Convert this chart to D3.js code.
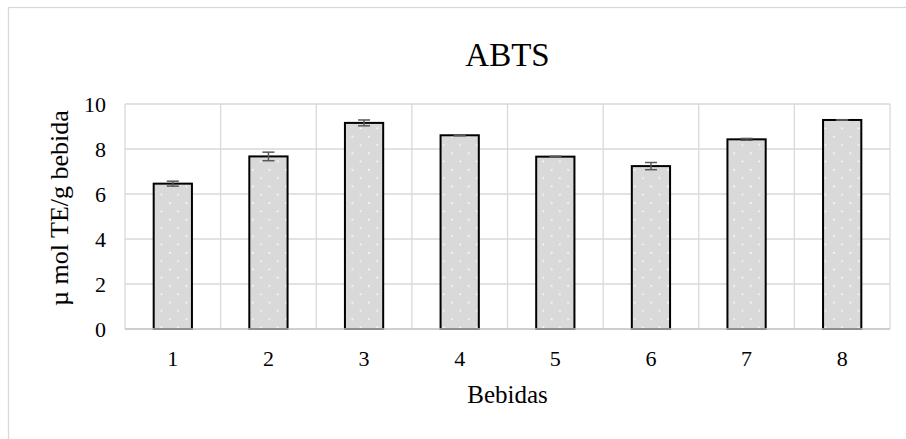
<!DOCTYPE html>
<html><head><meta charset="utf-8">
<script src="https://cdn.jsdelivr.net/npm/d3@7"></script>
<style>
html,body{margin:0;padding:0;background:#fff;}
svg{display:block;font-family:"Liberation Serif","Times New Roman",serif;}
</style></head>
<body><svg id="c" width="906" height="439"></svg>
<script>
const categories = ["1","2","3","4","5","6","7","8"];
const values = [6.46, 7.67, 9.16, 8.61, 7.66, 7.24, 8.43, 9.29];
const errors = [0.11, 0.19, 0.13, 0.02, 0.02, 0.16, 0.04, 0.01];
const yTicks = [0, 2, 4, 6, 8, 10];
const title = "ABTS";
const xTitle = "Bebidas";
const yTitle = "µ mol TE/g bebida";

const svg = d3.select("#c");
// outer chart frame (only top/left visible in the crop)
svg.append("rect").attr("x",8.5).attr("y",7.5).attr("width",1000).attr("height",1000)
  .attr("fill","#fff").attr("stroke","#d9d9d9").attr("stroke-width",1.3);

const defs = svg.append("defs");
const pat = defs.append("pattern").attr("id","dots").attr("patternUnits","userSpaceOnUse")
  .attr("width",16.6).attr("height",16.6);
pat.append("rect").attr("width",16.6).attr("height",16.6).attr("fill","#d9d9d9");
pat.append("rect").attr("x",3).attr("y",3).attr("width",1.6).attr("height",1.6).attr("fill","#fff");
pat.append("rect").attr("x",11.3).attr("y",11.3).attr("width",1.6).attr("height",1.6).attr("fill","#fff");

const L = 125, R = 890, T = 104, B = 329;
const x = d3.scaleBand().domain(categories).range([L, R]).paddingInner(0).paddingOuter(0);
const y = d3.scaleLinear().domain([0, 10]).range([B, T]);

// horizontal gridlines
svg.append("g").selectAll("line").data(yTicks.filter(d=>d>0)).join("line")
  .attr("x1",L).attr("x2",R).attr("y1",d=>y(d)).attr("y2",d=>y(d))
  .attr("stroke","#d9d9d9").attr("stroke-width",1.3);
// vertical gridlines (category boundaries)
const bounds = categories.map(c=>x(c)).concat([R]);
svg.append("g").selectAll("line").data(bounds).join("line")
  .attr("x1",d=>d).attr("x2",d=>d).attr("y1",T).attr("y2",B)
  .attr("stroke","#d9d9d9").attr("stroke-width",1.3);

// bars
const bw = x.bandwidth()*0.4;
svg.append("g").selectAll("rect").data(values).join("rect")
  .attr("x",(d,i)=>x(categories[i])+x.bandwidth()/2-bw/2)
  .attr("y",d=>y(d)).attr("width",bw).attr("height",d=>B-y(d))
  .attr("fill","url(#dots)").attr("stroke","#000").attr("stroke-width",2);

// baseline
svg.append("line").attr("x1",L).attr("x2",R).attr("y1",B).attr("y2",B)
  .attr("stroke","#bfbfbf").attr("stroke-width",1.5);

// error bars
const eg = svg.append("g").attr("stroke","#595959").attr("stroke-width",1.5);
values.forEach((v,i)=>{
  const cx = x(categories[i])+x.bandwidth()/2;
  const y1 = y(v+errors[i]), y2 = y(v-errors[i]);
  eg.append("line").attr("x1",cx).attr("x2",cx).attr("y1",y1).attr("y2",y2);
  eg.append("line").attr("x1",cx-6).attr("x2",cx+6).attr("y1",y1).attr("y2",y1);
  eg.append("line").attr("x1",cx-6).attr("x2",cx+6).attr("y1",y2).attr("y2",y2);
});

// y axis labels
const yAxis = d3.axisLeft(y).tickValues(yTicks).tickSize(0).tickPadding(19);
const ya = svg.append("g").attr("transform",`translate(${L},0)`).call(yAxis);
ya.select(".domain").remove();
ya.selectAll("text").attr("font-size",22).attr("fill","#000")
  .attr("font-family","'Liberation Serif','Times New Roman',serif");

// x axis labels
const xAxis = d3.axisBottom(x).tickSize(0).tickPadding(21);
const xa = svg.append("g").attr("transform",`translate(0,${B})`).call(xAxis);
xa.select(".domain").remove();
xa.selectAll("text").attr("font-size",22).attr("fill","#000")
  .attr("font-family","'Liberation Serif','Times New Roman',serif");

// titles
svg.append("text").attr("x",(L+R)/2).attr("y",66).attr("text-anchor","middle")
  .attr("font-size",33).attr("fill","#000").text(title);
svg.append("text").attr("x",(L+R)/2).attr("y",403).attr("text-anchor","middle")
  .attr("font-size",25).attr("fill","#000").text(xTitle);
svg.append("text").attr("transform",`translate(68,208) rotate(-90)`)
  .attr("text-anchor","middle").attr("font-size",26).attr("fill","#000").text(yTitle);
</script></body></html>
